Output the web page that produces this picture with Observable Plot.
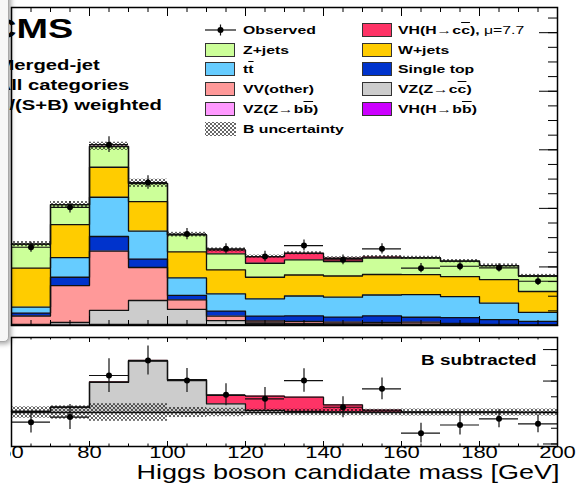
<!DOCTYPE html>
<html><head><meta charset="utf-8">
<script src="https://cdn.jsdelivr.net/npm/d3@7"></script>
<script src="https://cdn.jsdelivr.net/npm/@observablehq/plot@0.6"></script>
<style>
html,body{margin:0;padding:0;background:#fff;}
body{width:585px;height:487px;overflow:hidden;position:relative;font-family:"Liberation Sans",Arial,sans-serif;color:#000;}
.abs{position:absolute;white-space:nowrap;}
.lbl{font-weight:bold;transform:scaleX(1.35);}
.ov{text-decoration:overline;}
.sw{position:absolute;width:30px;height:14px;border:1px solid #333;box-sizing:border-box;}
</style></head><body>
<svg width="0" height="0" style="position:absolute"><defs>
<pattern id="hatch" patternUnits="userSpaceOnUse" width="4" height="4">
<path d="M0,0L4,4M4,0L0,4" stroke="#000" stroke-width="0.6" fill="none"/>
</pattern></defs></svg>
<div id="topPanel" class="abs" style="left:0;top:0"></div>
<div id="botPanel" class="abs" style="left:0;top:330px"></div>
<div id="labels"></div>
<div class="abs" style="left:0;top:343px;width:10px;height:144px;background:#fff;z-index:9"></div>
<div class="abs" style="left:-12px;top:-12px;width:19px;height:352px;border:1.5px solid #a8a8a8;border-radius:5px;background:#f7f7f7;box-shadow:2px 2px 5px rgba(0,0,0,0.35);z-index:10"></div>
<script>
// ---- data ----
const binLow = [60,70,80,90,100,110,120,130,140,150,160,170,180,190];
const binWidth = 10;
const VHbb  = [0.5,0.5,0.9,0.9,0.9,0.9,1.7,1.7,1.4,1.4,1.4,0.9,0.5,0.3];
const VZbb  = [0.3,0.3,0.9,0.9,0.9,0.5,0.9,0.9,0.9,0.7,0.5,0.5,0.3,0.2];
const VZcc  = [0.9,4.3,23.9,40.9,25.6,6.8,1.7,0.9,0.5,0.2,0.3,0.3,0.2,0.1];
const VVother = [14.5,63.1,101.2,56.3,16.2,7.7,3.4,3.4,2.9,2.9,3.4,1.7,0.7,0.3];
const singleTop = [5.1,14.2,25.1,14.5,7.7,8.5,8.2,9.4,8.5,11.1,8.5,10.2,8.5,6.0];
const ttbar = [10.2,33.6,67.0,47.8,29.9,29.7,29.7,34.1,34.1,35.8,38.7,35.8,28.1,15.4];
const Wjets = [66.5,56.3,51.2,50.3,44.4,40.9,36.8,35.8,36.2,35.0,34.1,34.1,40.1,35.8];
const Zjets = [40.9,34.1,35.3,30.7,29.0,27.3,23.9,25.9,24.7,28.1,28.5,26.4,23.9,26.4];
const VHcc  = [0,0,0.5,0.5,0.5,6.8,11.4,11.3,5.6,1.7,0,0,0,0];
const observed = [133.6,201.8,308.8,244.0,156.1,130.9,117.7,136.5,112.1,130.9,97.8,101.2,98.4,75.6];
const obsErr = [8.6,9.9,13.4,11.5,9.5,8.7,9.0,9.3,8.3,8.6,7.9,7.9,7.1,7.1];
const bUnc = [4.5,5.3,7,7,4,3.4,2.6,2.6,2.6,2.6,2.8,2.8,2.8,2.8];
const obsSub = [-7.7,-3.6,29.4,41.3,25.4,14.1,10.9,25.4,4.2,18.8,-16.4,-9.9,-5.0,-9.0];
const xTickLabels = [60,80,100,120,140,160,180,200];
const xTitle = "Higgs boson candidate mass [GeV]";
const layerNames = ["VH(H→bb)","VZ(Z→bb)","VZ(Z→cc)","VV(other)","Single top","tt","W+jets","Z+jets","VH(H→cc)"];
const layerColors = ["#cc00ff","#ff99ff","#cccccc","#ff9999","#0033cc","#66ccff","#ffcc00","#ccff99","#ff3366"];
const layerValues = [VHbb,VZbb,VZcc,VVother,singleTop,ttbar,Wjets,Zjets,VHcc];
const legendCol1 = ["Observed","Z+jets",'t<span class="ov">t</span>',"VV(other)",'VZ(Z→b<span class="ov">b</span>)',"B uncertainty"];
const legendCol1Color = [null,"#ccff99","#66ccff","#ff9999","#ff99ff","hatch"];
const legendCol2 = ['VH(H→c<span class="ov">c</span>), <span style="font-weight:normal">μ=7.7</span>',"W+jets","Single top",'VZ(Z→c<span class="ov">c</span>)','VH(H→b<span class="ov">b</span>)'];
const legendCol2Color = ["#ff3366","#ffcc00","#0033cc","#cccccc","#cc00ff"];
const textLines = ["CMS","Merged-jet","All categories","S/(S+B) weighted"];

// ---- build stacked data ----
const binHigh = binLow[binLow.length-1] + binWidth;
const rects = [], steps = [];
const cum = binLow.map(() => 0);
layerValues.forEach((vals, k) => {
  binLow.forEach((lo, i) => {
    const y1 = cum[i]; cum[i] += vals[i];
    rects.push({lo, hi: lo + binWidth, y1, y2: cum[i], layer: layerNames[k]});
  });
  binLow.forEach((lo, i) => steps.push({x: lo, y: cum[i], layer: layerNames[k]}));
  steps.push({x: binHigh, y: cum[cum.length-1], layer: layerNames[k]});
});
const totals = cum.slice();
const bands = binLow.map((lo,i) => ({lo, hi: lo+binWidth, t: totals[i], u: bUnc[i]}));
const obs = binLow.map((lo,i) => ({lo, hi: lo+binWidth, c: lo+binWidth/2, v: observed[i], e: obsErr[i], s: obsSub[i]}));

const W = 585, ML = 11, MR = 28;
const fw = W - ML - MR;
const xMinor = d3.range(60, 201, 5);

// ---- top panel ----
const topH = 330, topMT = 7, topMB = 5, fhTop = topH - topMT - topMB;
const yTopMax = 543;
const topPlot = Plot.plot({
  width: W, height: topH, marginLeft: ML, marginRight: MR, marginTop: topMT, marginBottom: topMB,
  style: {background: "transparent", fontFamily: "Liberation Sans"},
  x: {domain: [60, 200], axis: null},
  y: {domain: [0, yTopMax], axis: null},
  color: {domain: layerNames, range: layerColors},
  marks: [
    Plot.rect(rects, {x1: "lo", x2: "hi", y1: "y1", y2: "y2", fill: "layer"}),
    Plot.rect(bands, {x1: "lo", x2: "hi", y1: d => d.t - d.u, y2: d => d.t + d.u, fill: "url(#hatch)"}),
    Plot.line(steps, {x: "x", y: "y", z: "layer", curve: "step-after", stroke: "#111", strokeWidth: 1.3}),
    Plot.tickX(xMinor, {x: d => d, insetBottom: fhTop - 5, stroke: "#000", strokeWidth: 1}),
    Plot.tickX(xTickLabels, {x: d => d, insetBottom: fhTop - 9, stroke: "#000", strokeWidth: 1}),
    Plot.tickX(xMinor, {x: d => d, insetTop: fhTop - 5, stroke: "#000", strokeWidth: 1}),
    Plot.tickX(xTickLabels, {x: d => d, insetTop: fhTop - 9, stroke: "#000", strokeWidth: 1}),
    Plot.tickY(d3.range(0, yTopMax, 25), {y: d => d, insetLeft: fw - 9, stroke: "#000", strokeWidth: 1}),
    Plot.tickY(d3.range(0, yTopMax, 100), {y: d => d, insetLeft: fw - 18, stroke: "#000", strokeWidth: 1}),
    Plot.ruleY(obs, {y: "v", x1: "lo", x2: "hi", stroke: "#111", strokeWidth: 1.2}),
    Plot.ruleX(obs, {x: "c", y1: d => d.v - d.e, y2: d => d.v + d.e, stroke: "#111", strokeWidth: 1.2}),
    Plot.dot(obs, {x: "c", y: "v", r: 3, fill: "#000", stroke: "none"}),
    Plot.frame({stroke: "#000", strokeWidth: 1.5})
  ]
});
document.getElementById("topPanel").appendChild(topPlot);

// ---- bottom panel ----
const botH = 157, botMT = 7, botMB = 41, fhBot = botH - botMT - botMB;
const yBot = [-27, 59.6];
const sig = binLow.map((lo,i) => ({lo, hi: lo+binWidth, a: VZcc[i], b: VZcc[i] + VHcc[i]}));
const sigSteps = [];
binLow.forEach((lo,i) => { sigSteps.push({x: lo, y: sig[i].a, k: "a"}); });
sigSteps.push({x: binHigh, y: sig[sig.length-1].a, k: "a"});
binLow.forEach((lo,i) => { sigSteps.push({x: lo, y: sig[i].b, k: "b"}); });
sigSteps.push({x: binHigh, y: sig[sig.length-1].b, k: "b"});

const botPlot = Plot.plot({
  width: W, height: botH, marginLeft: ML, marginRight: MR, marginTop: botMT, marginBottom: botMB,
  style: {background: "transparent", fontFamily: "Liberation Sans", overflow: "visible"},
  x: {domain: [60, 200], axis: null},
  y: {domain: yBot, axis: null},
  marks: [
    Plot.rect(sig, {x1: "lo", x2: "hi", y1: 0, y2: "a", fill: "#cccccc"}),
    Plot.rect(sig, {x1: "lo", x2: "hi", y1: "a", y2: "b", fill: "#ff3366"}),
    Plot.line(sigSteps, {x: "x", y: "y", z: "k", curve: "step-after", stroke: "#111", strokeWidth: 1.3}),
    Plot.rect(bands, {x1: "lo", x2: "hi", y1: d => -d.u, y2: d => d.u, fill: "url(#hatch)"}),
    Plot.ruleY([0], {stroke: "#111", strokeWidth: 1.3}),
    Plot.tickX(xMinor, {x: d => d, insetBottom: fhBot - 2.5, stroke: "#000"}),
    Plot.tickX(xTickLabels, {x: d => d, insetBottom: fhBot - 5, stroke: "#000"}),
    Plot.tickX(xMinor, {x: d => d, insetTop: fhBot - 2.5, stroke: "#000"}),
    Plot.tickX(xTickLabels, {x: d => d, insetTop: fhBot - 5, stroke: "#000"}),
    Plot.tickY(d3.range(-25, 59, 12.5), {y: d => d, insetLeft: fw - 6, stroke: "#000"}),
    Plot.tickY([-25, 0, 25, 50], {y: d => d, insetLeft: fw - 14, stroke: "#000"}),
    Plot.ruleY(obs, {y: "s", x1: "lo", x2: "hi", stroke: "#111", strokeWidth: 1.2}),
    Plot.ruleX(obs, {x: "c", y1: d => d.s - d.e, y2: d => d.s + d.e, stroke: "#111", strokeWidth: 1.2}),
    Plot.dot(obs, {x: "c", y: "s", r: 3, fill: "#000", stroke: "none"}),
    Plot.frame({stroke: "#000", strokeWidth: 1.5}),
    Plot.text(xTickLabels, {x: d => d, frameAnchor: "bottom", dy: 11.5, text: d => String(d), fontSize: 16.3, fill: "#000"}),
    Plot.text([xTitle], {frameAnchor: "bottom-right", textAnchor: "end", dy: 32.6, dx: 2, text: d => d, fontSize: 20, fill: "#000"})
  ]
});
document.getElementById("botPanel").appendChild(botPlot);
d3.select(botPlot).selectAll("text").each(function() {
  const t = this.getAttribute("transform") || "";
  const x = +(this.getAttribute("x") || 0);
  this.setAttribute("transform", `${t} translate(${x},0) scale(1.35,1) translate(${-x},0)`);
});

// ---- labels & legend (HTML) ----
const L = document.getElementById("labels");
function addText(html, style, cls) {
  const d = document.createElement("div");
  d.className = "abs " + (cls || "lbl");
  d.innerHTML = html;
  d.setAttribute("style", style);
  L.appendChild(d);
  return d;
}
addText(textLines[0], "right:512px;top:12.6px;font-size:28px;line-height:32px;transform-origin:right center;");
addText(textLines[1], "right:485px;top:55.8px;font-size:15px;line-height:18px;transform-origin:right center;");
addText(textLines[2], "right:456px;top:76.3px;font-size:15px;line-height:18px;transform-origin:right center;");
addText(textLines[3], "right:423.5px;top:96.3px;font-size:15px;line-height:18px;transform-origin:right center;");
addText("B subtracted", "right:48px;top:352px;font-size:14px;line-height:16px;transform-origin:right center;");

const rowY = [29.5, 49.5, 69.3, 89.3, 109.2, 129];
function swatch(x, y, color) {
  if (color === "hatch") {
    const s = document.createElementNS("http://www.w3.org/2000/svg","svg");
    s.setAttribute("width", 31); s.setAttribute("height", 14);
    s.setAttribute("style", `position:absolute;left:${x}px;top:${y-7}px`);
    s.innerHTML = '<rect width="31" height="14" fill="url(#hatch)"/>';
    L.appendChild(s);
  } else if (color === null) {
    const s = document.createElementNS("http://www.w3.org/2000/svg","svg");
    s.setAttribute("width", 32); s.setAttribute("height", 14);
    s.setAttribute("style", `position:absolute;left:${x}px;top:${y-7}px`);
    s.innerHTML = '<line x1="0" x2="31" y1="7" y2="7" stroke="#111" stroke-width="1.2"/><line x1="15.5" x2="15.5" y1="1.5" y2="12.5" stroke="#111" stroke-width="1.2"/><circle cx="15.5" cy="7" r="3" fill="#000"/>';
    L.appendChild(s);
  } else {
    const d = document.createElement("div");
    d.className = "sw";
    d.style.left = x + "px"; d.style.top = (y - 7) + "px"; d.style.background = color;
    L.appendChild(d);
  }
}
legendCol1.forEach((t, i) => {
  swatch(205, rowY[i], legendCol1Color[i]);
  addText(t, `left:243px;top:${rowY[i]-7}px;font-size:11.7px;line-height:14px;transform-origin:left center;`);
});
legendCol2.forEach((t, i) => {
  swatch(362, rowY[i], legendCol2Color[i]);
  addText(t, `left:398px;top:${rowY[i]-7}px;font-size:11.7px;line-height:14px;transform-origin:left center;`);
});
</script>
</body></html>
